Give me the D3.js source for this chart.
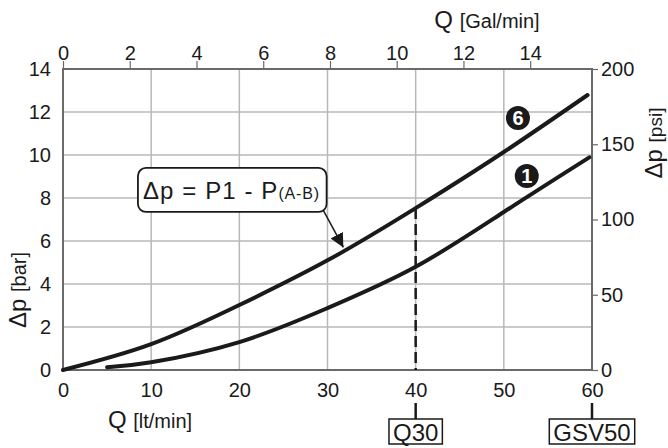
<!DOCTYPE html>
<html><head><meta charset="utf-8">
<script src="https://cdn.jsdelivr.net/npm/d3@7"></script>
<style>
body{margin:0;background:#fff;}
svg{display:block;font-family:"Liberation Sans",Arial,sans-serif;}
</style></head>
<body><svg id="c" width="668" height="448"></svg>
<script>
// ---- data ----
const flowTicks = [0, 10, 20, 30, 40, 50, 60];
const barTicks = [0, 2, 4, 6, 8, 10, 12, 14];
const galTicks = [0, 2, 4, 6, 8, 10, 12, 14];
const psiTicks = [0, 50, 100, 150, 200];
const flow6 = [0, 10, 20, 30, 40, 50, 59.5];
const dp6   = [0, 1.2, 3.02, 5.1, 7.53, 10.14, 12.79];
const flow1 = [5, 10, 20, 30, 40, 50, 59.7];
const dp1   = [0.13, 0.36, 1.3, 2.88, 4.8, 7.35, 9.89];
const markFlow = [40, 60];
const markLabels = ["Q30", "GSV50"];
const curveLabels = ["6", "1"];
const curveLabelFlow = [51.6, 52.6];
const curveLabelDp = [11.72, 9.02];

const svg = d3.select("#c");
const L = 63, R = 592, T = 69, B = 370;
const x = d3.scaleLinear().domain([0, 60]).range([L, R]);
const y = d3.scaleLinear().domain([0, 14]).range([B, T]);
const xg = d3.scaleLinear().domain([0, 60 / 3.785]).range([L, R]);
const yp = d3.scaleLinear().domain([0, 200]).range([B, T]);

const gridC = "#b8b8b8", frameC = "#6a6a6a", ink = "#1a1a1a";

// grid
svg.append("g").selectAll("line").data(flowTicks.slice(1, -1)).join("line")
  .attr("x1", d => x(d)).attr("x2", d => x(d)).attr("y1", T).attr("y2", B)
  .attr("stroke", gridC).attr("stroke-width", 1.5);
svg.append("g").selectAll("line").data(barTicks.slice(1, -1)).join("line")
  .attr("x1", L).attr("x2", R).attr("y1", d => y(d)).attr("y2", d => y(d))
  .attr("stroke", gridC).attr("stroke-width", 1.5);

// frame
svg.append("rect").attr("x", L).attr("y", T).attr("width", R - L).attr("height", B - T)
  .attr("fill", "none").attr("stroke", frameC).attr("stroke-width", 2);

// axes
const fs = 20;
const gl = svg.append("g").attr("transform", `translate(${L},0)`)
  .call(d3.axisLeft(y).tickValues(barTicks).tickSize(0).tickPadding(12));
const gb = svg.append("g").attr("transform", `translate(0,${B})`)
  .call(d3.axisBottom(x).tickValues(flowTicks).tickSize(0).tickPadding(13));
const gt = svg.append("g").attr("transform", `translate(0,${T})`)
  .call(d3.axisTop(xg).tickValues(galTicks).tickSize(8).tickPadding(1).tickSizeOuter(0));
const gr = svg.append("g").attr("transform", `translate(${R},0)`)
  .call(d3.axisRight(yp).tickValues(psiTicks).tickSize(6).tickPadding(3).tickSizeOuter(0));
[gl, gb, gt, gr].forEach(g => {
  g.select(".domain").remove();
  g.selectAll("text").attr("font-size", fs).attr("fill", ink)
    .attr("font-family", '"Liberation Sans",Arial,sans-serif');
  g.selectAll(".tick line").attr("stroke", frameC).attr("stroke-width", 1.2);
});

// axis titles
function title(tx, ty, rot, big, small, ss) {
  const t = svg.append("text").attr("transform", `translate(${tx},${ty}) rotate(${rot})`)
    .attr("text-anchor", "middle").attr("fill", ink);
  t.append("tspan").attr("font-size", 24).text(big);
  t.append("tspan").attr("font-size", ss).text(small);
}
title(150, 428, 0, "Q ", "[lt/min]", 20);
title(487, 28, 0, "Q ", "[Gal/min]", 20);
title(26, 290, -90, "Δp ", "[bar]", 20);
title(662, 143, -90, "Δp ", "[psi]", 19);

// curves
const line = d3.line().x(d => x(d[0])).y(d => y(d[1])).curve(d3.curveNatural);
[[flow6, dp6], [flow1, dp1]].forEach(([f, v]) => {
  svg.append("path").datum(f.map((d, i) => [d, v[i]])).attr("d", line)
    .attr("fill", "none").attr("stroke", ink).attr("stroke-width", 4)
    .attr("stroke-linecap", "round");
});

// dashed line at 40
svg.append("line").attr("x1", x(40)).attr("x2", x(40))
  .attr("y1", y(dp6[4])).attr("y2", y(0))
  .attr("stroke", ink).attr("stroke-width", 2.5).attr("stroke-dasharray", "11,5");

// curve labels
curveLabels.forEach((lab, i) => {
  svg.append("circle").attr("cx", x(curveLabelFlow[i])).attr("cy", y(curveLabelDp[i]))
    .attr("r", 12).attr("fill", ink);
  svg.append("text").attr("x", x(curveLabelFlow[i])).attr("y", y(curveLabelDp[i]) + 7)
    .attr("text-anchor", "middle").attr("fill", "#fff").attr("font-size", 20)
    .attr("font-weight", "bold").text(lab);
});

// bottom marks
markFlow.forEach((f, i) => {
  svg.append("line").attr("x1", x(f)).attr("x2", x(f)).attr("y1", 403).attr("y2", 419)
    .attr("stroke", ink).attr("stroke-width", 2.5);
  const t = svg.append("text").attr("x", x(f)).attr("y", 441).attr("text-anchor", "middle")
    .attr("font-size", 24).attr("fill", ink).text(markLabels[i]);
  const bb = t.node().getBBox();
  svg.append("rect").attr("x", bb.x - 4).attr("y", 419)
    .attr("width", bb.width + 8).attr("height", 25)
    .attr("fill", "none").attr("stroke", ink).attr("stroke-width", 1.5);
});

// annotation
const bx0 = x(8.5), bx1 = x(29.9), by0 = y(9.4), by1 = y(7.35);
svg.append("rect").attr("x", bx0).attr("y", by0).attr("width", bx1 - bx0).attr("height", by1 - by0)
  .attr("rx", 8).attr("fill", "#fff").attr("stroke", ink).attr("stroke-width", 1.8);
const at = svg.append("text").attr("x", bx0 + 5).attr("y", by0 + 31).attr("fill", ink);
at.append("tspan").attr("font-size", 24).attr("letter-spacing", 1.1).text("Δp = P1 - P");
at.append("tspan").attr("font-size", 16).attr("letter-spacing", 0.8).text("(A-B)");
svg.append("defs").append("marker").attr("id", "ah").attr("viewBox", "0 0 10 10")
  .attr("refX", 10).attr("refY", 5).attr("markerWidth", 14).attr("markerHeight", 14)
  .attr("orient", "auto-start-reverse").attr("markerUnits", "userSpaceOnUse")
  .append("path").attr("d", "M0,0 L10,5 L0,10 z").attr("fill", ink);
svg.append("line").attr("x1", bx1 - 3).attr("y1", by1 - 1)
  .attr("x2", x(31.8)).attr("y2", y(5.7))
  .attr("stroke", ink).attr("stroke-width", 1.5).attr("marker-end", "url(#ah)");
</script></body></html>
